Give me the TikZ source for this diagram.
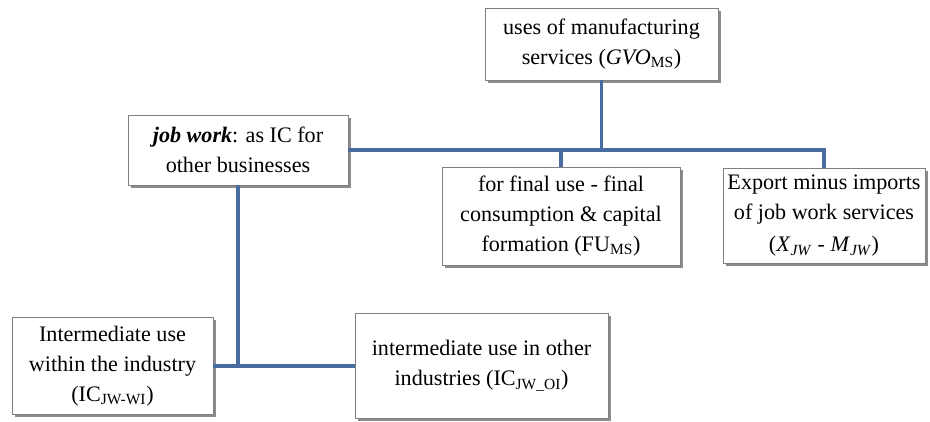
\documentclass[tikz,border=0pt]{standalone}
\usepackage{fontspec}
\setmainfont{Liberation Serif}
\usetikzlibrary{shadows}
\definecolor{linkblue}{RGB}{72,108,160}
\tikzset{
	usebox/.style={draw=black!50, line width=0.5pt, fill=white, align=center, inner sep=2pt,
		font=\fontsize{16.6}{22.5}\selectfont,
		drop shadow={shadow xshift=2pt, shadow yshift=-2.2pt, fill=black!45, opacity=1}},
	link/.style={draw=linkblue, line width=2.6pt}
}

\begin{document}
\begin{tikzpicture}[x=0.75pt, y=-0.75pt]
			%%%%% START %%%%%
			\useasboundingbox (0, 0) rectangle (930, 421);
			
			\node[usebox, minimum width=233*0.75pt, minimum height=72*0.75pt] (ms) at (601.5, 44)
				{uses of manufacturing\\services (\textit{GVO}\textsubscript{MS})};
			\node[usebox, minimum width=220*0.75pt, minimum height=70*0.75pt] (job) at (238, 150)
				{\textbf{\textit{job work}}: as IC for\\other businesses};
			\node[usebox, minimum width=238*0.75pt, minimum height=98*0.75pt] (fu) at (561, 216)
				{for final use - final\\consumption \& capital\\formation (FU\textsubscript{MS})};
			\node[usebox, minimum width=202*0.75pt, minimum height=95*0.75pt] (exp) at (824, 215.5)
				{Export minus imports\\of job work services\\[2pt](\textit{X}\textsubscript{\textit{JW}} - \textit{M}\textsubscript{\textit{JW}})};
			\node[usebox, minimum width=201*0.75pt, minimum height=97*0.75pt] (wi) at (112.5, 366)
				{Intermediate use\\within the industry\\(IC\textsubscript{JW-WI})};
			\node[usebox, minimum width=253*0.75pt, minimum height=105*0.75pt] (oi) at (481.5, 366)
				{intermediate use in other\\industries (IC\textsubscript{JW\_OI})};
			
			\draw[link] (ms.south) -- (ms.south |- job.east);
			\draw[link] (job.east) -- (job.east -| exp.north) -- (exp.north);
			\draw[link] (fu.north) -- (fu.north |- job.east);
			\draw[link] (job.south) -- (job.south |- wi.east);
			\draw[link] (wi.east) -- (oi.west);
			
			%%%%% END %%%%%
		\end{tikzpicture}
\end{document}
